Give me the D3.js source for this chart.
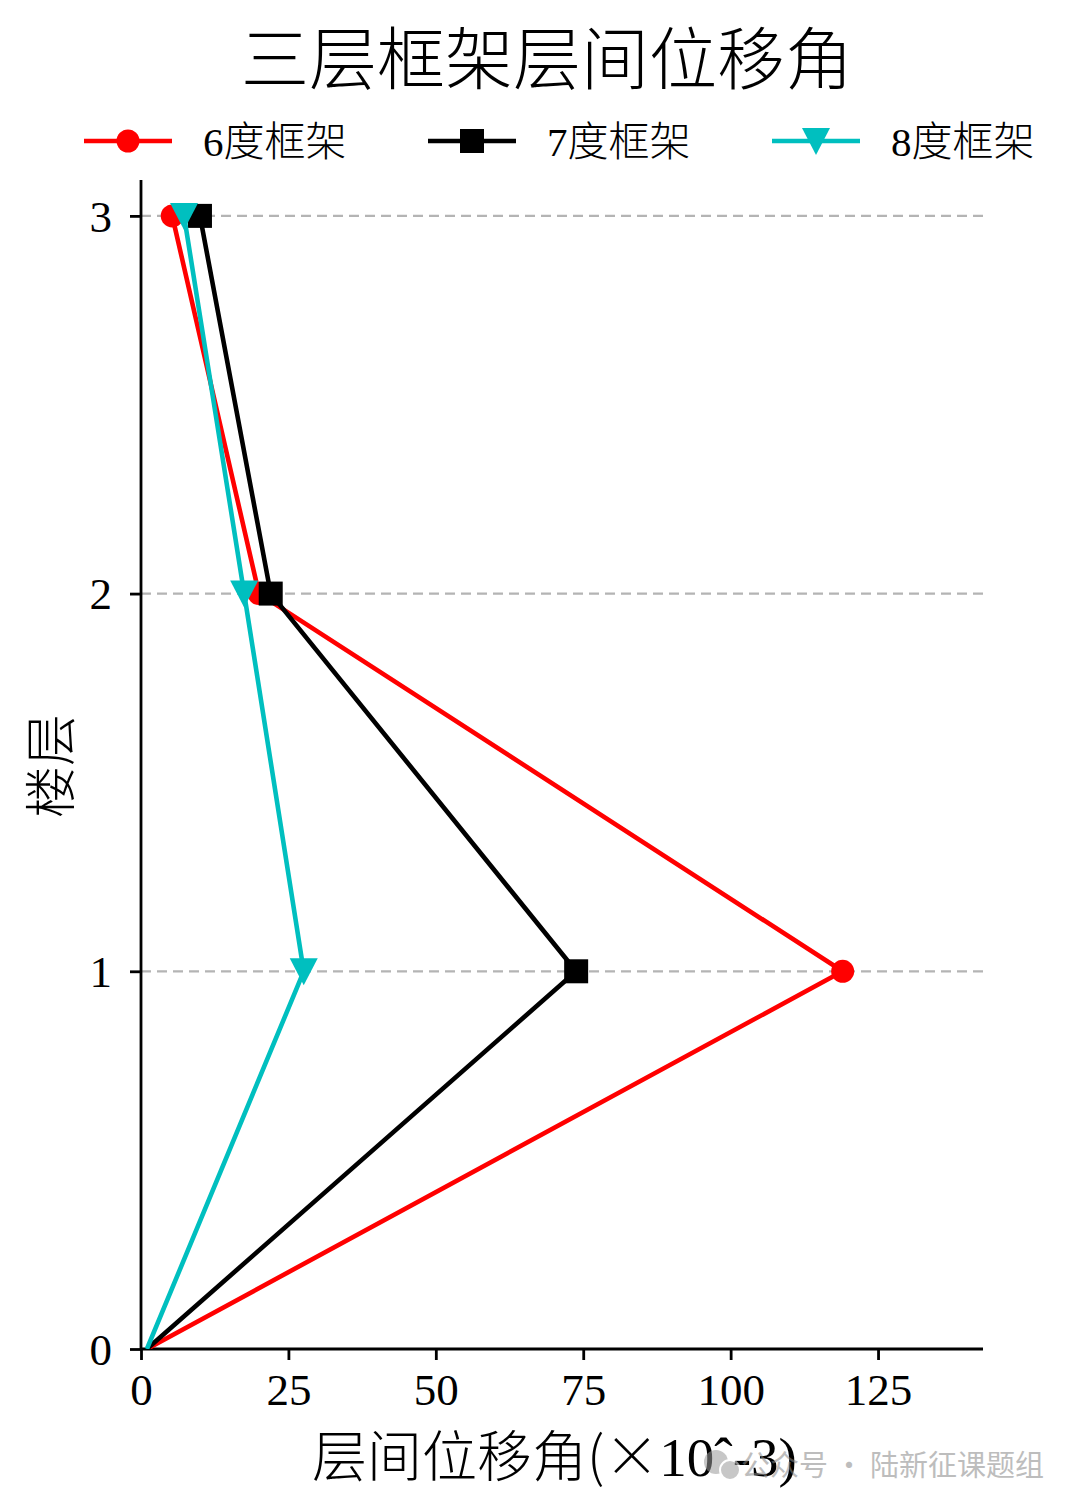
<!DOCTYPE html>
<html><head><meta charset="utf-8">
<script src="https://cdn.jsdelivr.net/npm/d3@7"></script>
<style>body{margin:0;background:#fff}</style>
</head><body>
<svg id="c" width="1080" height="1508"></svg>
<script>
const floors = [0, 1, 2, 3];
const floorTicks = [0, 1, 2, 3];
const xTicks = [0, 25, 50, 75, 100, 125];
const drift6 = [1, 119.0, 20.0, 5.3];
const drift7 = [1, 73.8, 22.0, 10.0];
const drift8 = [1, 27.6, 17.5, 7.3];
const seriesNames = ["6度框架", "7度框架", "8度框架"];
const seriesColors = ["#ff0000", "#000000", "#00bfbf"];
const seriesMarkers = ["circle", "square", "triangleDown"];
const titleText = "三层框架层间位移角";
const yLabel = "楼层";
const watermark = "公众号 · 陆新征课题组";

const serif = "'Liberation Serif','Times New Roman',serif";
const cjk = "'Noto Sans CJK SC','Noto Sans CJK JP',sans-serif";

const svg = d3.select("#c");
const L = 141, R = 983, T = 180, B = 1349;
const x = d3.scaleLinear().domain([0, 142.8]).range([L, R]);
const y = d3.scaleLinear().domain([0, 3.095]).range([B, T]);

// grid
svg.append("g").selectAll("line").data(floorTicks.filter(d => d > 0)).join("line")
  .attr("x1", L).attr("x2", R).attr("y1", d => y(d)).attr("y2", d => y(d))
  .attr("stroke", "#b4b4b4").attr("stroke-width", 2.2).attr("stroke-dasharray", "10,6");

// axes
const xa = svg.append("g").attr("transform", `translate(0,${B})`)
  .call(d3.axisBottom(x).tickValues(xTicks).tickSize(11).tickPadding(13).tickFormat(d3.format("d")));
const ya = svg.append("g").attr("transform", `translate(${L},0)`)
  .call(d3.axisLeft(y).tickValues(floorTicks).tickSize(11).tickPadding(18).tickFormat(d3.format("d")));
[xa, ya].forEach(a => {
  a.select(".domain").attr("stroke", "#000").attr("stroke-width", 2.8);
  a.selectAll(".tick line").attr("stroke", "#000").attr("stroke-width", 2.8);
  a.selectAll(".tick text").attr("fill", "#000").style("font-family", serif).style("font-size", "45px");
});
xa.select(".domain").attr("d", `M${L},0H${R}`);
ya.select(".domain").attr("d", `M0,${B}V${T}`);
ya.selectAll(".tick text").attr("dy", "0.34em");

svg.append("clipPath").attr("id", "pc").append("rect")
  .attr("x", L).attr("y", T - 30).attr("width", R - L + 30).attr("height", B - T + 30);

const allData = [drift6, drift7, drift8];
const line = d3.line().x(d => x(d[0])).y(d => y(d[1]));

function marker(g, type, cx, cy, color) {
  if (type === "circle") {
    g.append("circle").attr("cx", cx).attr("cy", cy).attr("r", 11.5).attr("fill", color);
  } else if (type === "square") {
    g.append("rect").attr("x", cx - 12).attr("y", cy - 12).attr("width", 24).attr("height", 24).attr("fill", color);
  } else {
    g.append("path").attr("d", `M${cx-14},${cy-13}L${cx+14},${cy-13}L${cx},${cy+14}Z`).attr("fill", color);
  }
}

const plot = svg.append("g").attr("clip-path", "url(#pc)");
allData.forEach((vals, i) => {
  const pts = floors.map((f, j) => [vals[j], f]);
  const g = plot.append("g");
  g.append("path").attr("d", line(pts)).attr("fill", "none")
    .attr("stroke", seriesColors[i]).attr("stroke-width", 4.6).attr("stroke-linejoin", "round");
  pts.forEach(p => { if (p[1] > 0) marker(g, seriesMarkers[i], x(p[0]), y(p[1]), seriesColors[i]); });
});

// title
svg.append("text").attr("x", 547).attr("y", 84).attr("text-anchor", "middle")
  .style("font-family", cjk).style("font-weight", 300).style("font-size", "68px").text(titleText);

// legend
const legX = [84, 428, 772];
seriesNames.forEach((n, i) => {
  const g = svg.append("g");
  const lx = legX[i], ly = 141;
  g.append("line").attr("x1", lx).attr("x2", lx + 88).attr("y1", ly).attr("y2", ly)
    .attr("stroke", seriesColors[i]).attr("stroke-width", 4.6);
  marker(g, seriesMarkers[i], lx + 44, ly, seriesColors[i]);
  const t = g.append("text").attr("x", lx + 119).attr("y", ly + 15)
    .style("font-size", "41px").style("font-weight", 300);
  t.append("tspan").style("font-family", serif).text(n.slice(0, 1));
  t.append("tspan").style("font-family", cjk).text(n.slice(1));
});

// axis labels
const xl = svg.append("text").attr("x", 312).attr("y", 1476)
  .style("font-size", "55px").style("font-weight", 300);
xl.append("tspan").style("font-family", cjk).text("层间位移角(×");
xl.append("tspan").style("font-family", serif).text("10ˆ-3)");

svg.append("text").attr("transform", `translate(70,766) rotate(-90)`).attr("text-anchor", "middle")
  .style("font-family", cjk).style("font-weight", 300).style("font-size", "52px").text(yLabel);

// watermark
const wm = svg.append("g").attr("opacity", 0.55);
wm.append("circle").attr("cx", 716).attr("cy", 1462).attr("r", 12).attr("fill", "#9a9a9a");
wm.append("circle").attr("cx", 730).attr("cy", 1470).attr("r", 10).attr("fill", "#9a9a9a").attr("stroke", "#fff").attr("stroke-width", 2);
wm.append("text").attr("x", 1044).attr("y", 1476).attr("text-anchor", "end")
  .style("font-family", cjk).style("font-size", "29px").attr("fill", "#888").text(watermark);
</script>
</body></html>
